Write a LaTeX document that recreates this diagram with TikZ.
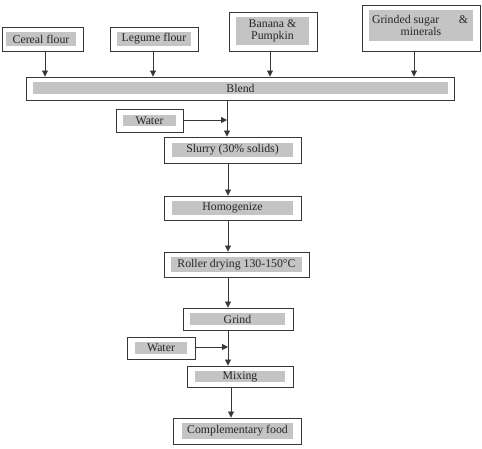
\documentclass[tikz,border=0pt]{standalone}
\usepackage{fontspec}
\setmainfont{Liberation Serif}
\usetikzlibrary{arrows.meta}
\definecolor{boxgray}{RGB}{196,196,196}
\definecolor{linec}{RGB}{55,55,55}
\tikzset{
  outerbox/.style={draw=linec, line width=0.9pt, fill=white, inner sep=0pt},
  innerbox/.style={fill=boxgray, inner sep=0pt, text=black!85, font=\fontsize{11.8}{12.6}\selectfont, align=center},
  flow/.style={draw=linec, line width=0.8pt, -{Triangle[length=6pt,width=6pt]}},
}
% \pbox{name}{x1}{y1}{x2}{y2}{gx1}{gy1}{gx2}{gy2}{text}
\newcommand{\pbox}[9]{%
  \node[outerbox, minimum width=#4pt-#2pt, minimum height=#5pt-#3pt] (#1) at ({(#2+#4)/2},{-(#3+#5)/2}) {};
  \pboxinner{#1}{#6}{#7}{#8}{#9}}
\newcommand{\pboxinner}[5]{%
  \node[innerbox, minimum width=#4pt-#2pt, minimum height=#5pt-#3pt] (#1-in) at ({(#2+#4)/2},{-(#3+#5)/2}) {\pboxtext};}
\begin{document}
\begin{tikzpicture}[x=1pt,y=1pt]
\useasboundingbox (0,0) rectangle (482,-448);
% top inputs
\def\pboxtext{Cereal flour}
\pbox{cereal}{2}{27}{83}{51}{6}{32}{76}{46}
\def\pboxtext{Legume flour}
\pbox{legume}{110}{27}{198}{51}{117}{32}{191}{46}
\def\pboxtext{Banana \&\\Pumpkin}
\pbox{banana}{229}{12}{317}{51}{236}{17}{309}{45}
\def\pboxtext{\makebox[98pt]{Grinded sugar\hfill\&\hspace*{2pt}}\\minerals}
\pbox{sugar}{362}{5}{480}{51}{369}{10}{473}{41}
\def\pboxtext{Blend}
\pbox{blend}{26}{77}{454}{100}{33}{82}{448}{94}
% main chain
\def\pboxtext{Water}
\pbox{water1}{116}{109}{183}{132}{123}{115}{176}{126}
\def\pboxtext{Slurry (30\% solids)}
\pbox{slurry}{164}{137}{301}{163}{172}{143}{293}{157}
\def\pboxtext{Homogenize}
\pbox{homog}{164}{196}{301}{220}{172}{201}{293}{215}
\def\pboxtext{Roller drying 130-150°C}
\pbox{roller}{164}{252}{309}{277}{171}{257}{302}{272}
\def\pboxtext{Grind}
\pbox{grind}{183}{308}{293}{330}{190}{313}{285}{325}
\def\pboxtext{Water}
\pbox{water2}{127}{337}{195}{359}{135}{342}{187}{354}
\def\pboxtext{Mixing}
\pbox{mixing}{187}{366}{293}{387}{195}{371}{285}{382}
\def\pboxtext{Complementary food}
\pbox{comp}{173}{418}{301}{444}{182}{423}{293}{439}
% arrows from inputs to blend
\draw[flow] (cereal.south -| 45,0) -- (blend.north -| 45,0);
\draw[flow] (legume.south -| 153,0) -- (blend.north -| 153,0);
\draw[flow] (banana.south -| 270,0) -- (blend.north -| 270,0);
\draw[flow] (sugar.south -| 414,0) -- (blend.north -| 414,0);
% main flow
\coordinate (j1) at (227,-120);
\draw[flow] (blend.south -| 227,0) -- (slurry.north -| 227,0);
\draw[flow] (water1.east |- j1) -- (j1);
\draw[flow] (slurry.south -| 228,0) -- (homog.north -| 228,0);
\draw[flow] (homog.south -| 228,0) -- (roller.north -| 228,0);
\draw[flow] (roller.south -| 228,0) -- (grind.north -| 228,0);
\coordinate (j2) at (228,-347);
\draw[flow] (grind.south -| 228,0) -- (mixing.north -| 228,0);
\draw[flow] (water2.east |- j2) -- (j2);
\draw[flow] (mixing.south -| 231,0) -- (comp.north -| 231,0);
\end{tikzpicture}
\end{document}
